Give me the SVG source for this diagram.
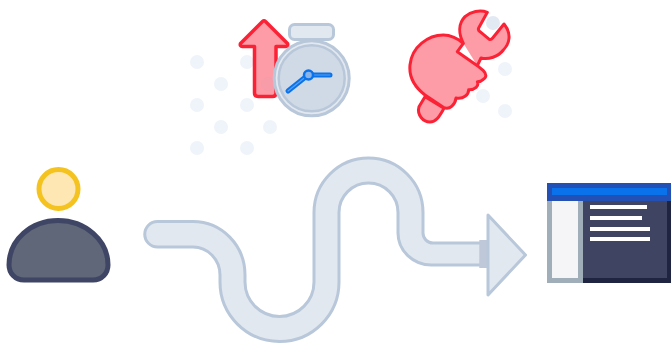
<svg xmlns="http://www.w3.org/2000/svg" width="671" height="343" viewBox="0 0 671 343">
<style>
.dot{fill:#eff4fa}
.red{fill:#fd9ca6;stroke:#fb2236;stroke-linejoin:round;stroke-linecap:round}
.slate{fill:#e2e8f0;stroke:#b8c7d9;stroke-width:3;stroke-linejoin:round}
.hand{fill:none;stroke-linecap:round;stroke-linejoin:round}
.txt{fill:#fff}
</style>
<rect width="671" height="343" fill="#fff"/>
<g id="dots">
<circle class="dot" cx="197" cy="62" r="7"/><circle class="dot" cx="247" cy="62" r="7"/><circle class="dot" cx="221" cy="84" r="7"/><circle class="dot" cx="197" cy="105" r="7"/><circle class="dot" cx="247" cy="105" r="7"/><circle class="dot" cx="221" cy="127" r="7"/><circle class="dot" cx="270" cy="127" r="7"/><circle class="dot" cx="197" cy="148" r="7"/><circle class="dot" cx="247" cy="148" r="7"/>
<circle cx="493" cy="23" r="7" fill="#e2e9f3"/><circle class="dot" cx="505" cy="69" r="7"/><circle class="dot" cx="483" cy="96" r="7"/><circle class="dot" cx="505" cy="111" r="7"/>
</g>
<g id="speed-arrow">
<path class="red" stroke-width="3.500" d="M262.500 21.500Q264 20 265.500 21.500L287.500 43.500Q288.500 46 286 46.500H276V93Q276 96.500 272.500 96.500H258Q254.500 96.500 254.500 93V46.500H242.500Q239.500 46 240.500 43.500Z"/>
<circle cx="268" cy="84" r="7" fill="#f79ca8"/>
</g>
<g id="stopwatch">
<rect class="slate" x="289.500" y="24.500" width="44" height="15" rx="5"/>
<circle class="slate" cx="311.700" cy="78.300" r="37.500"/>
<circle cx="311.700" cy="78.300" r="33" fill="#d0dae6" stroke="#b8c7d9" stroke-width="2.500"/>
<path class="hand" stroke="#0a73eb" stroke-width="5" d="M288 91L308 75H330"/>
<path class="hand" stroke="#5aa0ee" stroke-width="1.200" d="M288 91L308 75H330"/>
<circle cx="308.500" cy="75" r="4.500" fill="#8ab4e8" stroke="#0a73eb" stroke-width="2.500"/>
</g>
<g id="wrench-hand" transform="translate(400 0) scale(.33333)">
<path class="red" stroke-width="9" d="M75 290L57 320C50 345 70 366 90 366C110 366 120 345 132 325Z"/>
<path class="red" stroke-width="9" d="M190 130C175 100 175 70 195 50C212 35 240 28 262 37L236 84Q233 90 240 95L268 118Q273 120 278 114L312 72C335 100 330 130 310 150C295 170 265 180 243 174L232 197L250 212C260 222 260 232 250 238C245 243 238 245 232 245C238 258 225 270 206 269C206 285 190 298 168 294C166 312 150 332 130 322L75 285C40 258 27 225 30 195C35 140 85 105 130 105C150 105 175 115 190 130L172 155L232 197"/>
</g>
<g id="connectors">
<path class="slate" d="M157.500 221.500H193A52 53.500 0 0 1 245 275V282A34.500 34.500 0 0 0 314 282V212.500A54.500 54.500 0 0 1 423 212.500V233A10 10 0 0 0 433 243H486V265H431.500A33.500 32 0 0 1 398 233V212.500A29.500 29.500 0 0 0 339 212.500V282A59.500 59.500 0 0 1 220 282V275A27 28 0 0 0 193 247H157.500A12.750 12.750 0 0 1 157.500 221.500Z"/>
<rect x="479.300" y="240" width="8.500" height="28" fill="#bfc8d8"/>
<path class="slate" stroke-width="3.500" d="M488 215L525.500 255L488 295Z"/>
</g>
<g id="user">
<circle cx="58.500" cy="189" r="19.500" fill="#fee7b3" stroke="#f4c31f" stroke-width="5"/>
<path fill="#5f6779" stroke="#3f4564" stroke-width="5" d="M24 280H93C102 280 108 273 108 265C108 240 85 220.500 58 220.500C31 220.500 9 240 9 265C9 273 15 280 24 280Z"/>
</g>
<g id="window">
<rect x="547" y="200" width="36" height="83" fill="#a0aeb9"/>
<rect x="552" y="200" width="26" height="78" fill="#f5f5f7"/>
<rect x="583" y="200" width="88" height="83" fill="#1f2540"/>
<rect x="583" y="200" width="84" height="78" fill="#3f4462"/>
<rect x="547" y="183" width="124" height="18" fill="#2350b5"/>
<rect x="552" y="188" width="115" height="7" fill="#0a73eb"/>
<rect class="txt" x="590" y="205" width="57" height="4"/>
<rect class="txt" x="590" y="216" width="52" height="4"/>
<rect class="txt" x="590" y="227" width="60" height="4"/>
<rect class="txt" x="590" y="237" width="60" height="4"/>
</g>
</svg>
